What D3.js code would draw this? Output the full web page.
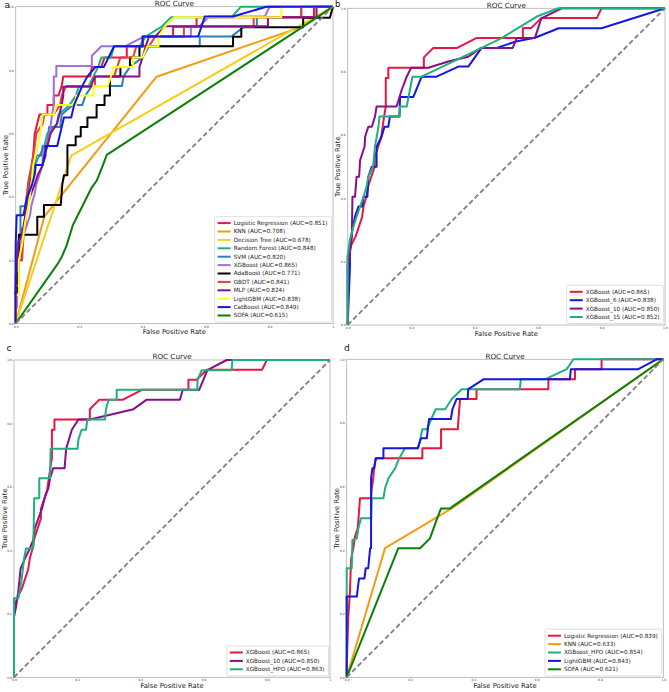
<!DOCTYPE html>
<html>
<head>
<meta charset="utf-8">
<script src="https://cdn.jsdelivr.net/npm/d3@7"></script>
<style>
  body { margin: 0; background: #fff; }
  svg { display: block; font-family: "DejaVu Sans", sans-serif; }
</style>
</head>
<body>
<svg id="chart" width="669" height="692"></svg>
<script>
// ---- data: [fpr, tpr] pairs ----
const chanceLine = [[0, 0], [1, 1]]

// panel a
const lrA = [[0,0],[0,0.05],[0.003,0.05],[0.003,0.15],[0.01,0.15],[0.01,0.2],[0.02,0.2],[0.02,0.3],[0.03,0.3],[0.03,0.37],[0.045,0.45],[0.055,0.53],[0.06,0.6],[0.075,0.66],[0.1,0.66],[0.1,0.69],[0.12,0.69],[0.12,0.72],[0.135,0.72],[0.145,0.75],[0.15,0.78],[0.235,0.78],[0.24,0.81],[0.27,0.81],[0.28,0.84],[0.35,0.84],[0.35,0.875],[0.4,0.875],[0.4,0.906],[0.496,0.906],[0.496,0.937],[0.57,0.937],[0.57,0.967],[0.94,0.967],[0.94,1],[1,1]]
const knnA = [[0,0],[0.09,0.337],[0.444,0.779],[0.906,0.938],[1,1]]
const dtA = [[0,0],[0.175,0.53],[1,1]]
const rfA = [[0,0],[0,0.1],[0.005,0.1],[0.005,0.2],[0.012,0.2],[0.015,0.28],[0.03,0.31],[0.04,0.4],[0.05,0.44],[0.06,0.5],[0.075,0.53],[0.09,0.56],[0.1,0.6],[0.13,0.63],[0.135,0.66],[0.17,0.69],[0.19,0.72],[0.2,0.75],[0.23,0.75],[0.245,0.78],[0.26,0.81],[0.27,0.84],[0.3,0.84],[0.31,0.875],[0.39,0.875],[0.41,0.906],[0.46,0.937],[0.49,0.967],[0.68,0.967],[0.71,1],[1,1]]
const svmA = [[0,0],[0,0.1],[0.005,0.1],[0.005,0.25],[0.015,0.28],[0.015,0.37],[0.03,0.37],[0.04,0.44],[0.045,0.47],[0.06,0.5],[0.065,0.53],[0.08,0.53],[0.085,0.56],[0.1,0.56],[0.105,0.62],[0.14,0.62],[0.145,0.66],[0.18,0.69],[0.21,0.69],[0.22,0.72],[0.24,0.75],[0.335,0.75],[0.34,0.78],[0.36,0.81],[0.4,0.84],[0.42,0.875],[0.58,0.875],[0.58,0.906],[0.68,0.906],[0.72,0.937],[0.76,0.937],[0.76,0.967],[0.9,0.967],[0.9,1],[1,1]]
const xgb = [[0,0],[0,0.22],[0.01,0.25],[0.025,0.28],[0.035,0.31],[0.045,0.34],[0.05,0.375],[0.06,0.41],[0.065,0.44],[0.075,0.47],[0.085,0.5],[0.085,0.53],[0.095,0.56],[0.105,0.59],[0.11,0.625],[0.115,0.66],[0.12,0.69],[0.12,0.78],[0.128,0.78],[0.128,0.8125],[0.24,0.8125],[0.24,0.845],[0.27,0.875],[0.345,0.875],[0.405,0.906],[0.552,0.906],[0.552,0.9375],[0.578,0.9375],[0.61,0.969],[0.785,0.969],[0.8,1],[1,1]]
const adaA = [[0,0],[0,0.1],[0.005,0.1],[0.005,0.16],[0.01,0.16],[0.01,0.28],[0.068,0.28],[0.068,0.337],[0.089,0.337],[0.089,0.374],[0.142,0.374],[0.147,0.44],[0.152,0.468],[0.163,0.468],[0.163,0.563],[0.189,0.563],[0.189,0.59],[0.205,0.59],[0.205,0.62],[0.226,0.62],[0.226,0.65],[0.255,0.65],[0.255,0.69],[0.28,0.69],[0.28,0.72],[0.297,0.72],[0.297,0.78],[0.33,0.78],[0.33,0.81],[0.36,0.81],[0.36,0.84],[0.39,0.84],[0.39,0.875],[0.685,0.875],[0.685,0.905],[0.711,0.905],[0.711,0.935],[0.906,0.935],[0.906,0.965],[0.99,0.965],[1,1]]
const gbdtA = [[0,0],[0,0.12],[0.01,0.12],[0.01,0.2],[0.02,0.2],[0.025,0.28],[0.03,0.31],[0.035,0.4],[0.04,0.45],[0.05,0.5],[0.06,0.56],[0.065,0.6],[0.085,0.63],[0.09,0.66],[0.12,0.66],[0.14,0.69],[0.145,0.72],[0.16,0.75],[0.25,0.75],[0.25,0.78],[0.31,0.78],[0.32,0.81],[0.33,0.84],[0.37,0.84],[0.38,0.875],[0.42,0.875],[0.44,0.906],[0.53,0.906],[0.53,0.937],[0.75,0.937],[0.75,0.967],[0.9,0.967],[0.9,1],[1,1]]
const mlpA = [[0,0],[0,0.15],[0.005,0.2],[0.01,0.26],[0.02,0.28],[0.03,0.34],[0.045,0.4],[0.06,0.44],[0.07,0.47],[0.085,0.5],[0.09,0.53],[0.1,0.56],[0.11,0.6],[0.13,0.63],[0.145,0.69],[0.15,0.72],[0.15,0.747],[0.236,0.747],[0.25,0.78],[0.39,0.78],[0.39,0.81],[0.4,0.84],[0.41,0.875],[0.42,0.906],[0.44,0.906],[0.47,0.938],[0.795,0.938],[0.795,0.967],[0.948,0.967],[0.948,1],[1,1]]
const lgbmA = [[0,0],[0,0.09],[0.01,0.09],[0.01,0.2],[0.02,0.25],[0.03,0.32],[0.04,0.37],[0.05,0.44],[0.055,0.5],[0.07,0.56],[0.08,0.62],[0.085,0.66],[0.12,0.66],[0.13,0.69],[0.19,0.69],[0.19,0.72],[0.245,0.72],[0.245,0.75],[0.29,0.75],[0.3,0.78],[0.31,0.81],[0.37,0.81],[0.37,0.84],[0.4,0.84],[0.415,0.875],[0.45,0.875],[0.45,0.906],[0.47,0.937],[0.5,0.967],[0.837,0.967],[0.837,1],[1,1]]
const catA = [[0,0],[0,0.25],[0.003,0.342],[0.024,0.342],[0.037,0.4],[0.052,0.44],[0.06,0.47],[0.063,0.5],[0.084,0.5],[0.094,0.53],[0.094,0.56],[0.131,0.56],[0.152,0.65],[0.175,0.65],[0.184,0.69],[0.21,0.75],[0.226,0.78],[0.252,0.81],[0.278,0.81],[0.31,0.875],[0.4,0.875],[0.4,0.906],[0.575,0.906],[0.596,0.969],[0.685,0.969],[0.79,1],[1,1]]
const sofaA = [[0,0],[0.13,0.185],[0.145,0.21],[0.16,0.245],[0.18,0.31],[0.24,0.43],[0.255,0.45],[0.275,0.5],[0.287,0.532],[0.906,0.937],[1,1]]
const namesA = ["Logistic Regression", "KNN", "Decision Tree", "Random Forest", "SVM", "XGBoost", "AdaBoost", "GBDT", "MLP", "LightGBM", "CatBoost", "SOFA"]
const aucA = [0.851, 0.708, 0.678, 0.848, 0.820, 0.865, 0.771, 0.841, 0.824, 0.838, 0.849, 0.615]

// panel b
const xgb6 = [[0,0],[0.007,0.184],[0.007,0.23],[0.013,0.29],[0.023,0.342],[0.034,0.374],[0.046,0.374],[0.05,0.405],[0.062,0.405],[0.065,0.468],[0.076,0.5],[0.091,0.5],[0.091,0.563],[0.107,0.595],[0.116,0.626],[0.128,0.626],[0.133,0.658],[0.163,0.658],[0.165,0.72],[0.207,0.72],[0.233,0.784],[0.28,0.784],[0.349,0.816],[0.38,0.816],[0.422,0.875],[0.47,0.875],[0.53,0.895],[0.59,0.907],[0.665,0.937],[0.8,0.937],[1,1]]
const xgb10b = [[0,0],[0,0.19],[0.006,0.22],[0.013,0.28],[0.015,0.405],[0.023,0.405],[0.028,0.468],[0.036,0.468],[0.039,0.52],[0.053,0.563],[0.055,0.595],[0.065,0.626],[0.076,0.626],[0.086,0.658],[0.091,0.69],[0.154,0.69],[0.17,0.742],[0.186,0.784],[0.2,0.8125],[0.254,0.8125],[0.317,0.832],[0.38,0.847],[0.42,0.875],[0.52,0.875],[0.533,0.906],[0.59,0.906],[0.61,0.968],[0.674,1],[1,1]]
const xgb15 = [[0,0],[0,0.216],[0.007,0.27],[0.018,0.31],[0.028,0.342],[0.039,0.374],[0.05,0.405],[0.06,0.44],[0.065,0.468],[0.08,0.5],[0.086,0.563],[0.097,0.626],[0.1,0.658],[0.163,0.658],[0.165,0.69],[0.186,0.69],[0.204,0.784],[0.233,0.784],[0.422,0.875],[0.485,0.906],[0.596,0.974],[0.664,1],[1,1]]
const namesB = ["XGBoost", "XGBoost_6", "XGBoost_10", "XGBoost_15"]
const aucB = [0.865, 0.838, 0.850, 0.852]

// panel c
const xgb10c = [[0,0],[0,0.19],[0.006,0.22],[0.013,0.265],[0.021,0.343],[0.035,0.375],[0.05,0.406],[0.061,0.433],[0.066,0.47],[0.077,0.5],[0.088,0.53],[0.098,0.569],[0.109,0.596],[0.114,0.627],[0.124,0.659],[0.16,0.659],[0.165,0.72],[0.183,0.78],[0.204,0.8125],[0.24,0.8125],[0.378,0.845],[0.42,0.875],[0.525,0.875],[0.534,0.906],[0.586,0.906],[0.612,0.968],[0.673,1],[1,1]]
const xgbHpoC = [[0,0],[0,0.249],[0.014,0.249],[0.024,0.307],[0.032,0.375],[0.038,0.406],[0.061,0.406],[0.064,0.564],[0.08,0.564],[0.08,0.627],[0.114,0.627],[0.116,0.72],[0.201,0.72],[0.204,0.75],[0.214,0.78],[0.228,0.78],[0.232,0.8125],[0.288,0.8125],[0.291,0.845],[0.299,0.875],[0.325,0.875],[0.325,0.906],[0.58,0.906],[0.581,0.937],[0.594,0.968],[0.689,0.968],[0.691,1],[1,1]]
const namesC = ["XGBoost", "XGBoost_10", "XGBoost_HPO"]
const aucC = [0.865, 0.850, 0.863]

// panel d
const lrD = [[0,0],[0,0.03],[0.005,0.19],[0.01,0.264],[0.014,0.374],[0.021,0.406],[0.026,0.442],[0.035,0.469],[0.042,0.563],[0.077,0.563],[0.079,0.594],[0.084,0.626],[0.087,0.662],[0.092,0.689],[0.239,0.689],[0.239,0.72],[0.298,0.72],[0.298,0.78],[0.351,0.78],[0.353,0.812],[0.358,0.875],[0.41,0.875],[0.41,0.906],[0.637,0.906],[0.637,0.937],[0.721,0.937],[0.721,0.969],[0.805,0.969],[0.805,1],[1,1]]
const knnD = [[0,0],[0.121,0.406],[0.332,0.531],[1,1]]
const xgbHpoD = [[0,0],[0,0.343],[0.016,0.343],[0.018,0.432],[0.032,0.437],[0.037,0.469],[0.045,0.5],[0.077,0.5],[0.079,0.563],[0.116,0.563],[0.121,0.594],[0.132,0.626],[0.153,0.657],[0.166,0.689],[0.184,0.72],[0.226,0.72],[0.239,0.78],[0.253,0.78],[0.281,0.843],[0.311,0.843],[0.332,0.875],[0.363,0.906],[0.547,0.906],[0.55,0.937],[0.626,0.937],[0.695,0.969],[0.716,1],[1,1]]
const lgbmD = [[0,0],[0,0.254],[0.032,0.254],[0.035,0.28],[0.039,0.311],[0.056,0.311],[0.06,0.343],[0.068,0.343],[0.074,0.406],[0.077,0.406],[0.077,0.626],[0.081,0.657],[0.087,0.657],[0.092,0.689],[0.116,0.689],[0.116,0.72],[0.224,0.72],[0.235,0.752],[0.253,0.752],[0.26,0.812],[0.329,0.812],[0.334,0.843],[0.347,0.875],[0.382,0.875],[0.384,0.906],[0.432,0.937],[0.705,0.937],[0.708,0.969],[0.921,0.969],[0.979,1],[1,1]]
const sofaD = [[0,0],[0.163,0.406],[0.232,0.406],[0.263,0.437],[0.284,0.495],[0.298,0.531],[0.326,0.531],[1,1]]
const namesD = ["Logistic Regression", "KNN", "XGBoost_HPO", "LightGBM", "SOFA"]
const aucD = [0.839, 0.633, 0.854, 0.843, 0.621]

// tick labels
const tickVals = [0, 0.2, 0.4, 0.6, 0.8, 1]
const yTickLabels = ["0.0", "0.2", "0.4", "0.6", "0.8", "1.0"]
const xTickLabelsShort = ["0.0", "0.2", "0.4", "0.6", "0.8", "1"]
const xTickLabelsLong = ["0.0", "0.2", "0.4", "0.6", "0.8", "1.0"]

// ---- styling ----
const col = {
  red: "#e8173f", orange: "#f39c12", gold: "#f5cf1a", teal: "#1fb080", steel: "#2a80b9",
  lavender: "#9b72e0", black: "#000000", red2: "#e2403c", purple: "#85108a",
  yellow: "#ffff1a", blue: "#1616e0", green: "#0a800a"
}

const panels = [
  {
    tag: "a", left: 15.7, right: 333, top: 6.7, bottom: 323.5, tagX: 4.5, tagY: 8.3,
    xLabels: xTickLabelsShort, names: namesA, aucs: aucA,
    curves: [lrA, knnA, dtA, rfA, svmA, xgb, adaA, gbdtA, mlpA, lgbmA, catA, sofaA],
    colors: [col.red, col.orange, col.gold, col.teal, col.steel, col.lavender, col.black, col.red2, col.purple, col.yellow, col.blue, col.green]
  },
  {
    tag: "b", left: 347.7, right: 665, top: 8.3, bottom: 325, tagX: 335, tagY: 7, tagSize: 8.5,
    xLabels: xTickLabelsLong, names: namesB, aucs: aucB,
    curves: [xgb, xgb6, xgb10b, xgb15],
    colors: [col.red, col.blue, col.purple, col.teal]
  },
  {
    tag: "c", left: 14, right: 330, top: 360, bottom: 677.3, tagX: 6.5, tagY: 350.5,
    xLabels: xTickLabelsShort, names: namesC, aucs: aucC,
    curves: [xgb, xgb10c, xgbHpoC],
    colors: [col.red, col.purple, col.teal]
  },
  {
    tag: "d", left: 346.7, right: 663.3, top: 359.3, bottom: 677.3, tagX: 344, tagY: 350.7,
    xLabels: xTickLabelsLong, names: namesD, aucs: aucD,
    curves: [lrD, knnD, xgbHpoD, lgbmD, sofaD],
    colors: [col.red, col.orange, col.teal, col.blue, col.green]
  }
]

const svg = d3.select("#chart")

function drawPanel(p) {
  const x = d3.scaleLinear().domain([0, 1]).range([p.left, p.right])
  const y = d3.scaleLinear().domain([0, 1]).range([p.bottom, p.top])
  const g = svg.append("g")

  // frame
  g.append("rect")
    .attr("x", p.left).attr("y", p.top)
    .attr("width", p.right - p.left).attr("height", p.bottom - p.top)
    .attr("fill", "none").attr("stroke", "#b0b0b0").attr("stroke-width", 0.8)

  const xAxis = d3.axisBottom(x).tickValues(tickVals)
    .tickFormat((d, i) => p.xLabels[i]).tickSize(1).tickPadding(1)
  g.append("g")
    .attr("transform", `translate(0,${p.bottom})`)
    .call(xAxis)
    .call(a => a.select(".domain").remove())
    .call(a => a.selectAll("line").attr("stroke", "#999").attr("stroke-width", 0.5))
    .call(a => a.selectAll("text").attr("font-size", 3).attr("fill", "#333"))
    .attr("font-family", null)

  const yAxis = d3.axisLeft(y).tickValues(tickVals)
    .tickFormat((d, i) => yTickLabels[i]).tickSize(1).tickPadding(1)
  g.append("g")
    .attr("transform", `translate(${p.left},0)`)
    .call(yAxis)
    .call(a => a.select(".domain").remove())
    .call(a => a.selectAll("line").attr("stroke", "#999").attr("stroke-width", 0.5))
    .call(a => a.selectAll("text").attr("font-size", 3).attr("fill", "#333"))
    .attr("font-family", null)

  const line = d3.line().x(d => x(d[0])).y(d => y(d[1]))

  p.curves.forEach((c, i) => {
    g.append("path")
      .datum(c)
      .attr("d", line)
      .attr("fill", "none")
      .attr("stroke", p.colors[i])
      .attr("stroke-width", 2)
      .attr("stroke-linejoin", "round")
  })

  // chance line
  g.append("path")
    .datum(chanceLine)
    .attr("d", line)
    .attr("fill", "none")
    .attr("stroke", "#808080")
    .attr("stroke-width", 1.8)
    .attr("stroke-dasharray", "5,2.8")

  // texts
  const cx = (p.left + p.right) / 2
  g.append("text").attr("x", cx).attr("y", p.top - 0.8)
    .attr("text-anchor", "middle").attr("font-size", 7.2).attr("fill", "#222").text("ROC Curve")
  g.append("text").attr("x", cx).attr("y", p.bottom + 10.7)
    .attr("text-anchor", "middle").attr("font-size", 6.8).attr("fill", "#222").text("False Positive Rate")
  g.append("text")
    .attr("transform", `translate(${p.left - 7.5},${(p.top + p.bottom) / 2}) rotate(-90)`)
    .attr("text-anchor", "middle").attr("font-size", 6.8).attr("fill", "#222").text("True Positive Rate")
  g.append("text").attr("x", p.tagX).attr("y", p.tagY)
    .attr("font-size", p.tagSize || 9).attr("fill", "#111").text(p.tag)

  // legend
  const rowH = 8.4
  const n = p.names.length
  const lg = g.append("g")
  const box = lg.append("rect")
  const labels = p.names.map((nm, i) => `${nm} (AUC=${p.aucs[i].toFixed(3)})`)
  const texts = lg.selectAll("text.lab").data(labels).enter().append("text")
    .attr("class", "lab")
    .attr("font-size", 5.7).attr("fill", "#222")
    .attr("dy", "0.35em")
    .text(d => d)
  let tw = 0
  texts.each(function () { tw = Math.max(tw, this.getComputedTextLength()) })
  const bw = 3 + 13 + 3 + tw + 4
  const bh = (n - 1) * rowH + 13
  const bx = p.right - 1.5 - bw
  const by = p.bottom - 1.5 - bh
  box.attr("x", bx).attr("y", by).attr("width", bw).attr("height", bh)
    .attr("rx", 1.5).attr("fill", "#fff").attr("fill-opacity", 0.85)
    .attr("stroke", "#cccccc").attr("stroke-width", 0.6)
  texts.attr("x", bx + 19).attr("y", (d, i) => by + 6.5 + i * rowH)
  lg.selectAll("line.key").data(labels).enter().append("line")
    .attr("x1", bx + 3).attr("x2", bx + 16)
    .attr("y1", (d, i) => by + 6.5 + i * rowH).attr("y2", (d, i) => by + 6.5 + i * rowH)
    .attr("stroke", (d, i) => p.colors[i]).attr("stroke-width", 2)
}

panels.forEach(drawPanel)
</script>
</body>
</html>
